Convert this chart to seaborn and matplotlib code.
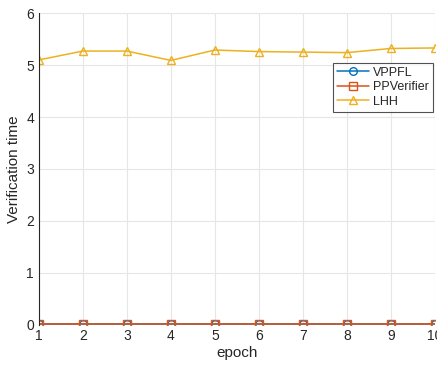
import matplotlib
matplotlib.use("Agg")
import matplotlib.pyplot as plt
import seaborn as sns
import pandas as pd

epochs = [1, 2, 3, 4, 5, 6, 7, 8, 9, 10]
vppfl = [0.01, 0.01, 0.01, 0.01, 0.01, 0.01, 0.01, 0.01, 0.01, 0.01]
ppverifier = [0.02, 0.02, 0.02, 0.02, 0.02, 0.02, 0.02, 0.02, 0.02, 0.02]
lhh = [5.10, 5.27, 5.27, 5.09, 5.29, 5.26, 5.25, 5.24, 5.32, 5.33]

series = ["VPPFL", "PPVerifier", "LHH"]
colors = ["#0072BD", "#D95319", "#EDB120"]
markers = ["o", "s", "^"]

df = pd.DataFrame({
    "epoch": epochs * 3,
    "time": vppfl + ppverifier + lhh,
    "method": [s for s in series for _ in epochs],
})

sns.set_style("white")
plt.rcParams["font.family"] = ["Arial", "Liberation Sans", "DejaVu Sans"]

fig = plt.figure(figsize=(4.37, 3.65), dpi=100)
ax = fig.add_axes([0.089, 0.11, 0.906, 0.854])

for name, c, m in zip(series, colors, markers):
    sub = df[df["method"] == name]
    sns.lineplot(data=sub, x="epoch", y="time", ax=ax, color=c, marker=m,
                 markersize=5.5, markerfacecolor="none", markeredgecolor=c,
                 markeredgewidth=1.0, linewidth=1.1, label=name)

ax.set_xlim(1, 10)
ax.set_ylim(0, 6)
ax.set_xticks(epochs)
ax.set_yticks(range(0, 7))
ax.grid(True, color="#e6e6e6", linewidth=0.8)
ax.set_axisbelow(True)
for s in ["top", "right", "bottom"]:
    ax.spines[s].set_visible(False)
ax.spines["left"].set_color("#262626")
ax.spines["left"].set_linewidth(0.8)
ax.tick_params(axis="both", labelsize=10, colors="#262626", direction="in", length=3)
ax.tick_params(axis="x", length=0, pad=3)
ax.set_xlabel("epoch", fontsize=11, color="#262626", labelpad=2)
ax.set_ylabel("Verification time", fontsize=11, color="#262626", labelpad=4)

leg = ax.legend(loc="upper right", bbox_to_anchor=(0.995, 0.84), fontsize=9,
                frameon=True, fancybox=False, edgecolor="#262626",
                borderpad=0.3, labelspacing=0.2, handlelength=2.6, handletextpad=0.3,
                borderaxespad=0)
leg.get_frame().set_linewidth(0.8)

fig.savefig("out.png", dpi=100)
